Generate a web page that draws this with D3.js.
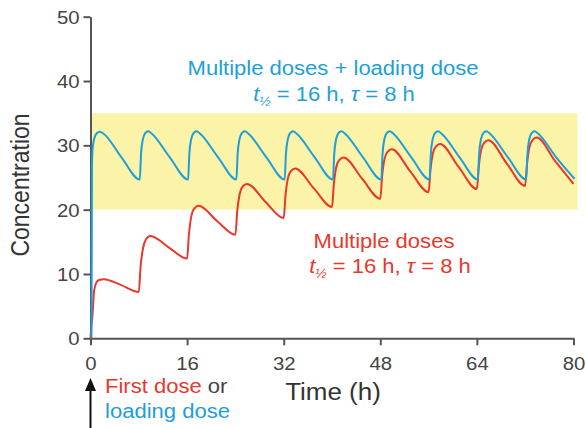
<!DOCTYPE html>
<html>
<head>
<meta charset="utf-8">
<script src="https://cdn.jsdelivr.net/npm/d3@7"></script>
<style>
  html, body { margin: 0; padding: 0; background: #fff; }
  svg { display: block; font-family: "Liberation Sans", Arial, sans-serif; }
</style>
</head>
<body>
<svg id="chart" width="586" height="428"></svg>
<script>
// Plasma concentration after repeated dosing (t½ = 16 h, dosing interval τ = 8 h)
const xTicks = [0, 16, 32, 48, 64, 80];
const yTicks = [0, 10, 20, 30, 40, 50];
const therapeuticWindow = [20, 35];

// Multiple doses only: [time (h), concentration]
const multipleDoses = [
  [0, 0], [0.1, 1.5], [0.3, 3.2], [0.6, 7.4], [1.0, 8.7], [1.5, 9.1], [2.2, 9.2], [5, 8.3], [8, 7.2],
  [8.3, 11.2], [8.7, 14.0], [9.2, 15.4], [9.9, 15.9], [13, 14.1], [16, 12.4],
  [16.3, 16.1], [16.7, 19.0], [17.2, 20.2], [17.9, 20.6], [21, 18.2], [24, 16.1],
  [24.3, 19.7], [24.7, 22.4], [25.2, 23.6], [25.9, 24.0], [29, 21.2], [32, 18.7],
  [32.3, 22.2], [32.7, 24.9], [33.2, 26.0], [33.9, 26.4], [37, 23.3], [40, 20.4],
  [40.3, 23.9], [40.7, 26.6], [41.2, 27.7], [41.9, 28.1], [45, 24.8], [48, 21.7],
  [48.3, 25.2], [48.7, 27.9], [49.2, 29.0], [49.9, 29.4], [53, 25.9], [56, 22.7],
  [56.3, 26.1], [56.7, 28.7], [57.2, 29.8], [57.9, 30.2], [61, 26.6], [64, 23.2],
  [64.3, 26.6], [64.7, 29.3], [65.2, 30.4], [65.9, 30.8], [69, 27.1], [72, 23.7],
  [72.3, 27.1], [72.7, 29.7], [73.2, 30.8], [73.9, 31.2], [77, 27.5], [80, 24.0]
];

// Multiple doses with a loading dose at time 0
const withLoadingDose = [
  [0, 0], [0.08, 27.0], [0.2, 29.6], [0.5, 31.2], [0.9, 31.9], [1.4, 32.1], [2.0, 31.8], [5, 28.1], [8, 24.7],
  [8.2, 28.6], [8.5, 30.9], [8.9, 31.9], [9.4, 32.2], [10, 31.8], [13, 28.1], [16, 24.7],
  [16.2, 28.6], [16.5, 30.9], [16.9, 31.9], [17.4, 32.2], [18, 31.8], [21, 28.1], [24, 24.7],
  [24.2, 28.6], [24.5, 30.9], [24.9, 31.9], [25.4, 32.2], [26, 31.8], [29, 28.1], [32, 24.7],
  [32.2, 28.6], [32.5, 30.9], [32.9, 31.9], [33.4, 32.2], [34, 31.8], [37, 28.1], [40, 24.7],
  [40.2, 28.6], [40.5, 30.9], [40.9, 31.9], [41.4, 32.2], [42, 31.8], [45, 28.1], [48, 24.7],
  [48.2, 28.6], [48.5, 30.9], [48.9, 31.9], [49.4, 32.2], [50, 31.8], [53, 28.1], [56, 24.7],
  [56.2, 28.6], [56.5, 30.9], [56.9, 31.9], [57.4, 32.2], [58, 31.8], [61, 28.1], [64, 24.7],
  [64.2, 28.6], [64.5, 30.9], [64.9, 31.9], [65.4, 32.2], [66, 31.8], [69, 28.1], [72, 24.7],
  [72.2, 28.6], [72.5, 30.9], [72.9, 31.9], [73.4, 32.2], [74, 31.8], [77, 28.1], [80, 24.8]
];

const RED = "#e8382d";
const BLUE = "#1d9fdb";
const AXIS = "#555";
const TEXT = "#444";
const STRETCH = 1.13; // slightly wide lettering

const svg = d3.select("#chart");
const x = d3.scaleLinear().domain([0, 80]).range([90.5, 573.5]);
const y = d3.scaleLinear().domain([0, 50]).range([338.3, 16.7]);

// therapeutic window band
svg.append("rect")
  .attr("x", x(0))
  .attr("y", y(therapeuticWindow[1]))
  .attr("width", x(80) - x(0) + 4)
  .attr("height", y(therapeuticWindow[0]) - y(therapeuticWindow[1]))
  .attr("fill", "#fbf3a8");

// axes
const xAxis = svg.append("g")
  .attr("transform", `translate(0,${y(0)})`)
  .call(d3.axisBottom(x).tickValues(xTicks).tickSize(7).tickPadding(0).tickSizeOuter(0));
const yAxis = svg.append("g")
  .attr("transform", `translate(${x(0)},0)`)
  .call(d3.axisLeft(y).tickValues(yTicks).tickSize(7).tickSizeOuter(0));

[xAxis, yAxis].forEach(g => {
  g.select(".domain").attr("stroke", AXIS).attr("stroke-width", 2);
  g.selectAll(".tick line").attr("stroke", AXIS).attr("stroke-width", 2);
  g.selectAll(".tick text").attr("fill", TEXT).attr("font-size", 18)
    .attr("font-family", "Liberation Sans, Arial, sans-serif");
});
xAxis.selectAll(".tick text").attr("y", null).attr("dy", null)
  .attr("transform", `translate(0,32) scale(${STRETCH},1)`);
yAxis.selectAll(".tick text").attr("x", null).attr("dy", null)
  .attr("transform", `translate(-11,6.5) scale(${STRETCH},1)`);

// curves
const line = d3.line().x(d => x(d[0])).y(d => y(d[1])).curve(d3.curveMonotoneX);
svg.append("path").datum(multipleDoses)
  .attr("d", line).attr("fill", "none").attr("stroke", RED).attr("stroke-width", 2)
  .attr("stroke-linejoin", "round");
svg.append("path").datum(withLoadingDose)
  .attr("d", line).attr("fill", "none").attr("stroke", BLUE).attr("stroke-width", 2)
  .attr("stroke-linejoin", "round")
  .attr("transform", "translate(1,0)");

// text helper with wide lettering
function label(px, py, size, anchor, fill) {
  return svg.append("text")
    .attr("transform", `translate(${px},${py}) scale(${STRETCH},1)`)
    .attr("font-size", size)
    .attr("text-anchor", anchor)
    .attr("fill", fill);
}

// half-life / interval line: t½ = 16 h, τ = 8 h
function paramLine(t) {
  t.append("tspan").attr("font-style", "italic").text("t");
  t.append("tspan").attr("font-size", 12).attr("dy", 5).attr("font-style", "italic").text("½");
  t.append("tspan").attr("dy", -5).text(" = 16 h, ");
  t.append("tspan").attr("font-style", "italic").text("τ");
  t.append("tspan").text(" = 8 h");
}

label(333, 75, 19.5, "middle", BLUE).text("Multiple doses + loading dose");
paramLine(label(334, 101, 19.5, "middle", BLUE));

label(384, 248, 19.5, "middle", RED).text("Multiple doses");
paramLine(label(390, 273, 19.5, "middle", RED));

// axis titles
label(333, 400, 23, "middle", "#333").text("Time (h)");
svg.append("text")
  .attr("transform", `translate(29,185) rotate(-90) scale(1,${STRETCH})`)
  .attr("font-size", 23).attr("text-anchor", "middle").attr("fill", "#333")
  .text("Concentration");

// dose marker
svg.append("line")
  .attr("x1", x(0)).attr("x2", x(0)).attr("y1", 428).attr("y2", 388)
  .attr("stroke", "#111").attr("stroke-width", 2);
svg.append("path")
  .attr("d", d3.line()([[x(0) - 5.5, 391], [x(0), 378], [x(0) + 5.5, 391]]) + "Z")
  .attr("fill", "#111");

const first = label(105, 393, 19.5, "start", RED);
first.append("tspan").text("First dose ");
first.append("tspan").attr("fill", TEXT).text("or");
label(105, 418, 19.5, "start", BLUE).text("loading dose");
</script>
</body>
</html>
